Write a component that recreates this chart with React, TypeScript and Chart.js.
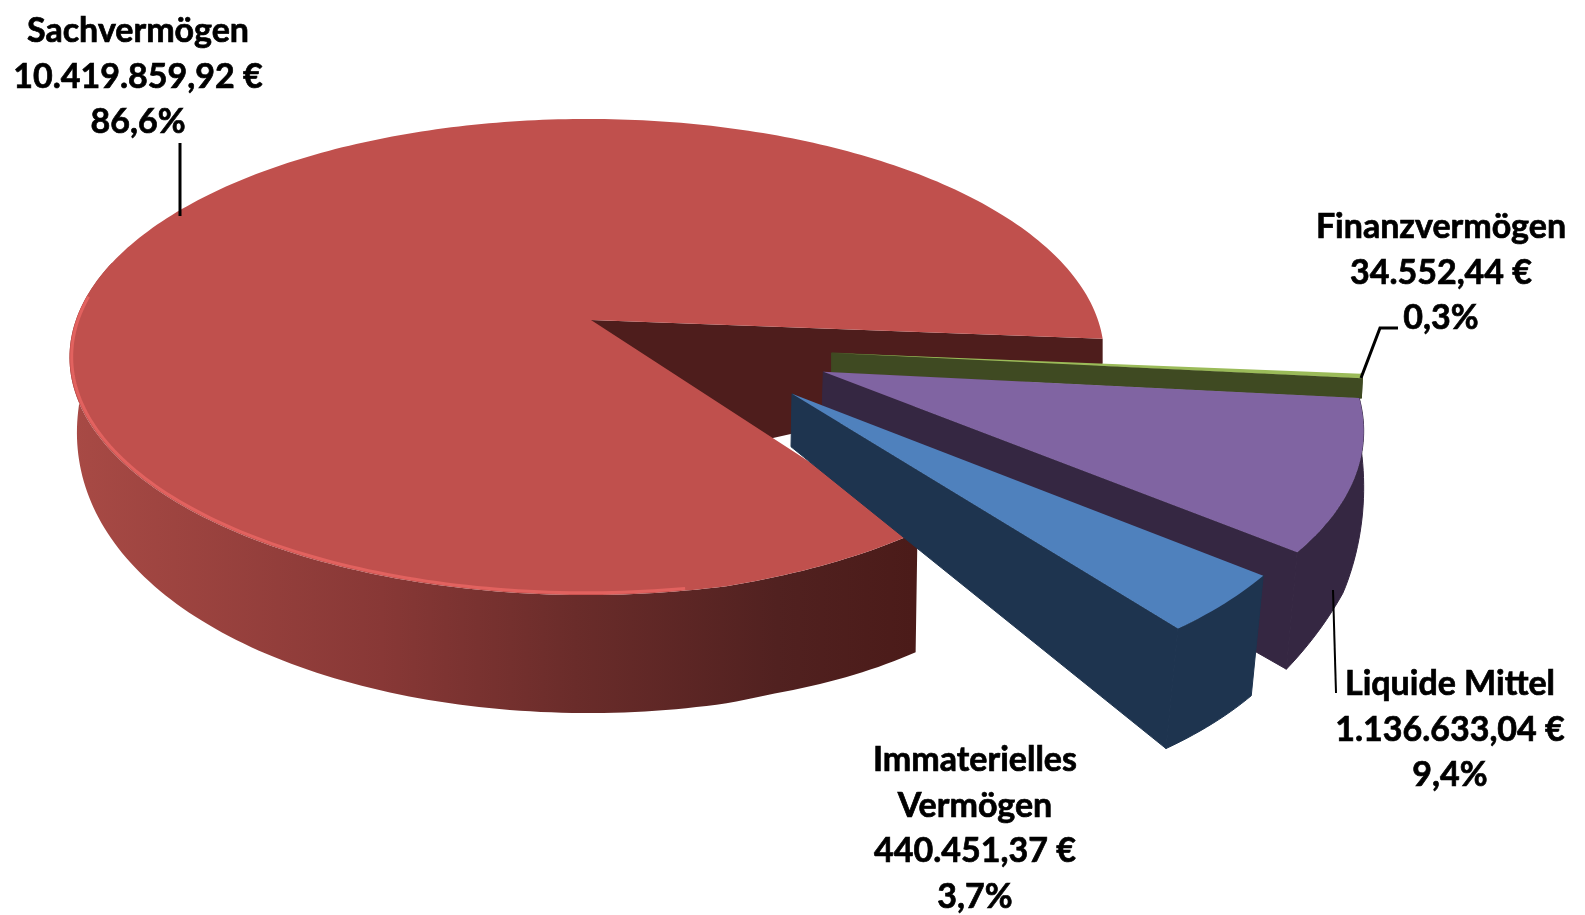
import React, { useEffect, useRef } from "react";
import { Chart, registerables } from "chart.js";

Chart.register(...registerables);

const categories = ["Sachvermögen", "Finanzvermögen", "Liquide Mittel", "Immaterielles Vermögen"];
const values = [10419859.92, 34552.44, 1136633.04, 440451.37];
const topColors = ["#C0504D", "#9BBB59", "#8064A2", "#4F81BD"];
const wallColors = ["#4E1D1C", "#3F4A22", "#352742", "#1E344F"];

const labelLines = [
  ["Sachvermögen", "10.419.859,92 €", "86,6%"],
  ["Finanzvermögen", "34.552,44 €", "0,3%"],
  ["Liquide Mittel", "1.136.633,04 €", "9,4%"],
  ["Immaterielles", "Vermögen", "440.451,37 €", "3,7%"],
];
const labelAnchors = [
  { x: 138, y: 42 },
  { x: 1441, y: 238 },
  { x: 1450, y: 695 },
  { x: 975, y: 771 },
];
const leaders = [
  [[180, 143], [180, 216]],
  [[1361, 378], [1380, 328], [1398, 328]],
  [[1333, 590], [1336, 693]],
];
const leaderWidths = [3, 3, 2];

// Perspective projection of the pie's unit disc onto the page
const APEX = { x: 591, y: 320 };
const SX = 511, SY = 232.3, KV = 0.1554, KU = -0.008;
const project = (u: number, v: number) => {
  const w = 1 - KV * v - KU * u;
  return { x: APEX.x + (SX * u) / w, y: APEX.y + (SY * v) / w };
};
const DEG = Math.PI / 180;

type Solid = {
  du: number; dv: number; r: number; da0: number; da1: number;
  apexD: number; apexDx: number; wallD?: number; spanEnd?: number;
  taper?: number;
  depth: (u: number, v: number) => number;
  dx: (u: number, v: number) => number;
};
const solids: Solid[] = [
  { du: 0, dv: 0, r: 1, da0: 0, da1: 0, apexD: 159, apexDx: 0, wallD: 25, spanEnd: 195 * DEG, taper: 0.02,
    depth: (u, v) => 63.7 + 74.3 * v - 20 * v * v + (10 * Math.max(0, u - 0.3)) / 0.27,
    dx: (u) => 1.5 - 6 * u },
  { du: 0.4625, dv: 0.139, r: 1.013, da0: 0.3, da1: 0.3, apexD: 19, apexDx: 0,
    depth: () => 20, dx: () => -1 },
  { du: 0.441, dv: 0.2163, r: 1.01, da0: 0.4, da1: 1.2, apexD: 33, apexDx: -1,
    depth: (_u, v) => -8 + 143 * v, dx: (_u, v) => Math.min(0, (-10 * (v - 0.7)) / 0.16) },
  { du: 0.376, dv: 0.3035, r: 0.995, da0: 1, da1: 1.6, apexD: 53, apexDx: -1,
    depth: () => 120, dx: () => -12 },
];

const pie3d = {
  id: "pie3d",
  beforeDatasetDraw(chart: any) {
    const ctx: CanvasRenderingContext2D = chart.ctx;
    const arcs = chart.getDatasetMeta(0).data;
    arcs.forEach((arc: any, i: number) => {
      const s = solids[i];
      const a0 = arc.startAngle + s.da0 * DEG, a1 = arc.endAngle + s.da1 * DEG;
      const radius = (a: number) => {
        if (!s.taper) return s.r;
        const t = Math.max(0, 1 - (a - a0) / (22 * DEG));
        return s.r - s.taper * t;
      };
      const uv = (a: number) => ({
        u: s.du + radius(a) * Math.cos(a),
        v: s.dv + radius(a) * Math.sin(a),
      });
      const steps = Math.max(4, Math.ceil((a1 - a0) / DEG));
      const rimAngles: number[] = [];
      for (let k = 0; k <= steps; k++) rimAngles.push(a0 + ((a1 - a0) * k) / steps);
      const apexTop = project(s.du, s.dv);
      const base = (a: number) => {
        const { u, v } = uv(a);
        const p = project(u, v);
        return { x: p.x + s.dx(u, v), y: p.y + s.depth(u, v) };
      };

      // outer side
      const sideEnd = s.spanEnd ? Math.min(a1, s.spanEnd) : a1;
      const sideAngles = rimAngles.filter((a) => a <= sideEnd + 1e-6);
      ctx.beginPath();
      sideAngles.forEach((a, k) => {
        const { u, v } = uv(a);
        const p = project(u, v);
        if (k === 0) ctx.moveTo(p.x, p.y);
        else ctx.lineTo(p.x, p.y);
      });
      [...sideAngles].reverse().forEach((a) => {
        const p = base(a);
        ctx.lineTo(p.x, p.y);
      });
      ctx.closePath();
      if (i === 0) {
        const g = ctx.createLinearGradient(70, 0, 912, 0);
        g.addColorStop(0, "#A84A45");
        g.addColorStop(0.37, "#883836");
        g.addColorStop(0.6, "#6A2C2A");
        g.addColorStop(0.84, "#512120");
        g.addColorStop(1, "#4B1B19");
        ctx.fillStyle = g;
      } else {
        ctx.fillStyle = wallColors[i];
        ctx.strokeStyle = wallColors[i];
        ctx.lineWidth = 1;
        ctx.stroke();
      }
      ctx.fill();

      // radial wall at the slice's end angle
      const endUv = uv(a1);
      const rimTop = project(endUv.u, endUv.v);
      const rimBase = s.wallD !== undefined ? { x: rimTop.x, y: rimTop.y + s.wallD } : base(a1);
      ctx.beginPath();
      ctx.moveTo(apexTop.x, apexTop.y);
      ctx.lineTo(rimTop.x, rimTop.y);
      ctx.lineTo(rimBase.x, rimBase.y);
      ctx.lineTo(apexTop.x + s.apexDx, apexTop.y + s.apexD);
      ctx.closePath();
      ctx.fillStyle = wallColors[i];
      ctx.fill();
      if (i > 0) {
        ctx.strokeStyle = wallColors[i];
        ctx.lineWidth = 1;
        ctx.stroke();
      }

      // top surface
      ctx.beginPath();
      ctx.moveTo(apexTop.x, apexTop.y);
      rimAngles.forEach((a) => {
        const { u, v } = uv(a);
        const p = project(u, v);
        ctx.lineTo(p.x, p.y);
      });
      ctx.closePath();
      ctx.fillStyle = arc.options.backgroundColor;
      ctx.fill();

      // highlight along the front bevel of the large slice
      if (i === 0) {
        ctx.beginPath();
        rimAngles
          .filter((a) => a >= 80 * DEG && a <= 186 * DEG)
          .forEach((a, k) => {
            const { u, v } = uv(a);
            const p = project(u * 0.996, v * 0.993);
            if (k === 0) ctx.moveTo(p.x, p.y);
            else ctx.lineTo(p.x, p.y);
          });
        ctx.strokeStyle = "#E2625F";
        ctx.lineWidth = 3;
        ctx.stroke();
      }
    });
    return false;
  },
  afterDraw(chart: any) {
    const ctx: CanvasRenderingContext2D = chart.ctx;
    ctx.save();
    ctx.strokeStyle = "#000";
    ctx.lineJoin = "miter";
    leaders.forEach((pts, i) => {
      ctx.beginPath();
      pts.forEach(([x, y], k) => (k === 0 ? ctx.moveTo(x, y) : ctx.lineTo(x, y)));
      ctx.lineWidth = leaderWidths[i];
      ctx.stroke();
    });
    ctx.fillStyle = "#000";
    ctx.font = "700 34px Lato";
    ctx.textAlign = "center";
    ctx.textBaseline = "alphabetic";
    ctx.lineWidth = 0.7;
    labelLines.forEach((lines, i) => {
      lines.forEach((t, k) => {
        const y = labelAnchors[i].y + k * 45.5;
        ctx.fillText(t, labelAnchors[i].x, y);
        ctx.strokeText(t, labelAnchors[i].x, y);
      });
    });
    ctx.restore();
  },
};

export default function App() {
  const ref = useRef<HTMLCanvasElement>(null);
  useEffect(() => {
    const chart = new Chart(ref.current!, {
      type: "pie",
      data: {
        labels: categories,
        datasets: [{ data: values, backgroundColor: topColors, borderWidth: 0 }],
      },
      options: {
        animation: false,
        responsive: false,
        devicePixelRatio: 1,
        rotation: 145,
        circumference: 357.5,
        plugins: { legend: { display: false }, tooltip: { enabled: false } },
      } as any,
      plugins: [pie3d],
    });
    return () => chart.destroy();
  }, []);
  return (
    <div style={{ position: "absolute", left: 0, top: 0, width: 1585, height: 915, background: "#fff" }}>
      <canvas ref={ref} width={1585} height={915} style={{ display: "block" }} />
    </div>
  );
}
